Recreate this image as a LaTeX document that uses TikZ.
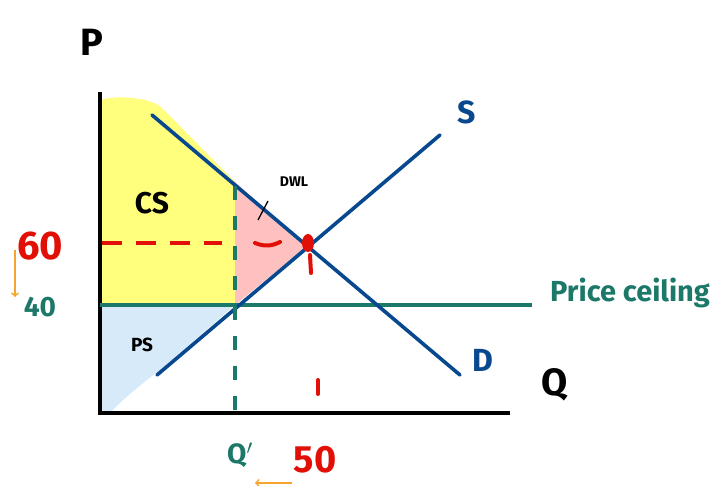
\documentclass[tikz,border=0pt]{standalone}
\usepackage{fontspec}
\setmainfont{Fira Sans}
\definecolor{ceilgreen}{RGB}{28,120,104}
\definecolor{curveblue}{RGB}{8,72,142}
\definecolor{hotred}{RGB}{225,15,5}
\definecolor{csyellow}{RGB}{255,255,125}
\definecolor{dwlpink}{RGB}{255,192,192}
\definecolor{psblue}{RGB}{214,234,250}
\definecolor{noteorange}{RGB}{245,165,45}
\tikzset{
  curve/.style={curveblue, line width=3.6pt, line cap=round},
  hand/.style={font=\fontsize{#1}{#1}\selectfont\bfseries},
  redash/.style={hotred, line width=4pt, dash pattern=on 20pt off 14pt},
}
\begin{document}
\begin{tikzpicture}[x=1pt,y=-1pt]
  \useasboundingbox (0,0) rectangle (721,486);
  % surplus areas
  \fill[csyellow] (100,100) .. controls (115,96) and (130,97) .. (145,100)
    .. controls (152,102) and (158,104) .. (162,108) -- (235,182) -- (235,305) -- (100,305) -- cycle;
  \fill[dwlpink] (235,182) -- (307,246) -- (235,305) -- cycle;
  \fill[psblue] (100,305) -- (235,305) -- (160,370)
    .. controls (140,385) and (122,400) .. (110,413) -- (100,413) -- cycle;
  % axes
  \draw[line width=4.5pt] (100,92) -- (100,413) -- (510,413);
  % ceiling
  \draw[ceilgreen, line width=3.6pt] (100,305) -- (532,305);
  % supply and demand
  \draw[curve] (152,115) -- (460,375);
  \draw[curve] (157,375) -- (440,135);
  % dashed guides
  \draw[ceilgreen, line width=4pt, dash pattern=on 14pt off 16pt] (235,186) -- (235,410);
  \draw[redash] (102,243) -- (222,243);
  \draw[hotred, line width=4pt, line cap=round] (255,243) .. controls (265,247) and (272,246) .. (280,242);
  \draw[hotred, line width=4pt, line cap=round] (310,255) -- (311,273);
  \draw[hotred, line width=4pt, line cap=round] (318,380) -- (318,394);
  \fill[hotred] (308,243) ellipse (6pt and 9pt);
  % DWL pointer
  \draw[line width=1.3pt] (258,220) -- (268,201);
  % labels
  \node[hand=38] (plabel) at (92,42) {P};
  \node[hand=38] (qlabel) at (555,385) {Q};
  \node[hand=32, curveblue] (slabel) at (467,112) {S};
  \node[hand=32, curveblue] (dlabel) at (483,360) {D};
  \node[hand=30] (cslabel) at (152,203) {CS};
  \node[hand=19] (pslabel) at (142,345) {PS};
  \node[hand=14] (dwllabel) at (294,182) {DWL};
  \node[hand=40, hotred] (sixty) at (40,246) {60};
  \node[hand=28, ceilgreen] (forty) at (40,307) {40};
  \node[hand=28, ceilgreen] (qprime) at (240,455) {Q$'$};
  \node[hand=38, hotred] (fifty) at (315,460) {50};
  \node[hand=29, ceilgreen] (ceiling) at (630,293) {Price ceiling};
  % price falls, quantity falls
  \coordinate (pdrop) at (15,250);
  \coordinate (pend) at (15,297);
  \draw[noteorange, line width=1.8pt, ->] (pdrop) -- (pend);
  \coordinate (qdrop) at (292,483);
  \coordinate (qend) at (255,483);
  \draw[noteorange, line width=1.8pt, ->] (qdrop) -- (qend);
\end{tikzpicture}
\end{document}
